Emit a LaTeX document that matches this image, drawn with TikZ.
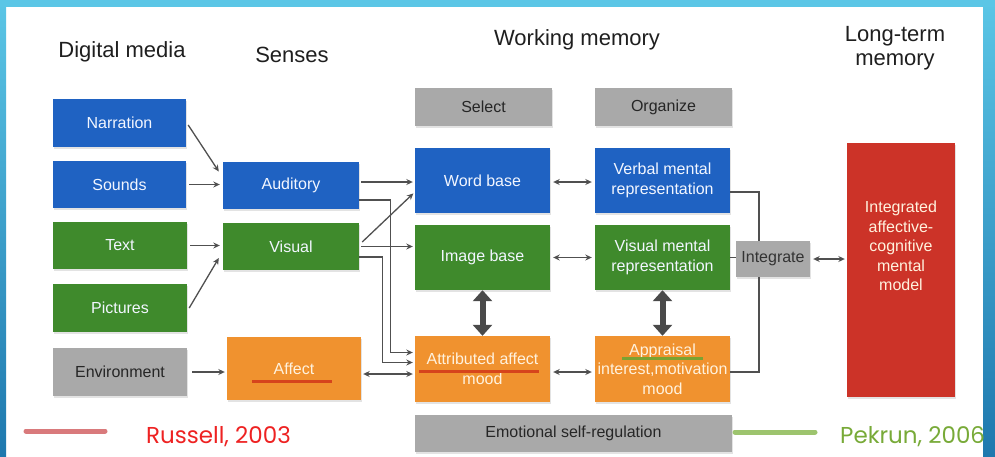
\documentclass[tikz,border=0pt]{standalone}
\usepackage{fontspec}
\setmainfont{Liberation Sans}
\newfontfamily\legfont{Poppins}
\usetikzlibrary{arrows.meta,calc,shadows}
\definecolor{cblue}{HTML}{1F62C2}
\definecolor{cgreen}{HTML}{3F8A2C}
\definecolor{corange}{HTML}{F0922F}
\definecolor{cgray}{HTML}{A9A9A9}
\definecolor{cred}{HTML}{CC3328}
\definecolor{cline}{HTML}{505050}
\definecolor{cthick}{HTML}{4A4A4A}
\definecolor{frameA}{HTML}{5BC6E6}
\definecolor{frameB}{HTML}{1E78AE}
\definecolor{ulred}{HTML}{D6441C}
\definecolor{ulgreen}{HTML}{7BA232}
\definecolor{legred}{HTML}{D97A7C}
\definecolor{leggreen}{HTML}{9DC46E}
\definecolor{txtred}{HTML}{EE2222}
\definecolor{txtgreen}{HTML}{78AA38}
\definecolor{lighttxt}{HTML}{F2F6FF}
\definecolor{orangetxt}{HTML}{FFF2DE}
\begin{document}
\begin{tikzpicture}[x=1pt,y=-1pt,
  box/.style={rectangle, inner sep=0pt, align=center,
    font=\fontsize{16}{19.5}\selectfont,
    drop shadow={shadow xshift=1pt,shadow yshift=-1.5pt,opacity=0.22}},
  bluebox/.style={box, fill=cblue, text=lighttxt},
  greenbox/.style={box, fill=cgreen, text=lighttxt},
  orangebox/.style={box, fill=corange, text=orangetxt},
  graybox/.style={box, fill=cgray, text=black!85},
  head/.style={font=\fontsize{22}{22}\selectfont, text=black!88, align=center, inner sep=0pt},
  arr/.style={draw=cline, line width=1.3pt, -{Stealth[length=6.5pt,width=6pt]}},
  darr/.style={draw=cline, line width=1.3pt, {Stealth[length=6.5pt,width=6pt]}-{Stealth[length=6.5pt,width=6pt]}},
  plain/.style={draw=cline, line width=1.3pt},
  fat/.style={draw=cthick, line width=6pt, {Triangle[length=11pt,width=19pt]}-{Triangle[length=11pt,width=19pt]}},
  ul/.style={line width=3pt},
  legline/.style={line width=5pt, line cap=round},
  legtext/.style={font=\legfont\fontsize{23}{23}\selectfont, inner sep=0pt, anchor=base west}
]
\useasboundingbox (0,0) rectangle (995,456);
\fill[white] (0,0) rectangle (995,456);
% frame
\shade[top color=frameA, bottom color=frameB] (0,0) rectangle (6,456);
\shade[top color=frameA, bottom color=frameB] (983,0) rectangle (995,456);
\fill[frameA] (0,0) rectangle (995,7);

% headers
\node[head, anchor=base] (hdm) at (122,57) {Digital media};
\node[head, anchor=base] (hsen) at (292,62) {Senses};
\node[head, anchor=base] (hwm) at (577,45) {Working memory};
\node[head] (hltm) at (895,48) {Long-term\\[2pt]memory};

% digital media
\node[bluebox, minimum width=133pt, minimum height=48pt] (narr) at (119.5,123) {Narration};
\node[bluebox, minimum width=133pt, minimum height=47pt] (sounds) at (119.5,184.5) {Sounds};
\node[greenbox, minimum width=134pt, minimum height=47pt] (text) at (120,245.5) {Text};
\node[greenbox, minimum width=134pt, minimum height=48pt] (pics) at (120,308) {Pictures};
\node[graybox, minimum width=134pt, minimum height=48pt] (env) at (120,372) {Environment};

% senses
\node[bluebox, minimum width=136pt, minimum height=47pt] (aud) at (291,185.5) {Auditory};
\node[greenbox, minimum width=136pt, minimum height=47pt] (vis) at (291,246.5) {Visual};
\node[orangebox, minimum width=134pt, minimum height=63pt] (affect) at (294,368.5) {Affect};

% working memory
\node[graybox, minimum width=137pt, minimum height=38pt] (select) at (483.5,107) {Select};
\node[graybox, minimum width=137pt, minimum height=38pt] (organize) at (663.5,107) {Organize};
\node[bluebox, minimum width=135pt, minimum height=65pt] (word) at (482.5,180.5) {Word base};
\node[bluebox, minimum width=135pt, minimum height=65pt] (verbal) at (662.5,180.5) {Verbal mental\\representation};
\node[greenbox, minimum width=135pt, minimum height=65pt] (image) at (482.5,257.5) {Image base};
\node[greenbox, minimum width=135pt, minimum height=65pt] (vismen) at (662.5,257.5) {Visual mental\\representation};
\node[orangebox, minimum width=135pt, minimum height=66pt] (attr) at (482.5,369) {Attributed affect\\mood};
\node[orangebox, minimum width=135pt, minimum height=66pt] (appr) at (662.5,369) {Appraisal\\interest,motivation\\mood};
\node[graybox, minimum width=317pt, minimum height=37pt] (emo) at (573.5,433.5) {Emotional self-regulation};
\node[graybox, minimum width=74pt, minimum height=36pt, text=black!80] (integ) at (773,259) {Integrate};

% long-term memory
\node[box, fill=cred, text=orangetxt, minimum width=108pt, minimum height=254pt] (ltm) at (901,270)
  {\raisebox{18pt}[0pt][0pt]{\begin{tabular}{@{}c@{}}Integrated\\affective-\\cognitive\\mental\\model\end{tabular}}};

% connectors: media -> senses
\draw[arr] ([xshift=2pt,yshift=-2pt]narr.east) -- ([xshift=-4pt,yshift=14pt]aud.west);
\draw[arr, shorten <=3pt, shorten >=3pt] (sounds.east) -- (sounds.east -| aud.west);
\draw[arr, shorten <=3pt, shorten >=3pt] (text.east) -- (text.east -| vis.west);
\draw[arr] ([xshift=2pt]pics.east) -- ([xshift=-4pt,yshift=-11.5pt]vis.west);
\draw[arr, shorten <=5pt, shorten >=2pt] (env.east) -- (env.east -| affect.west);
\draw[darr, shorten <=2pt, shorten >=2pt] ([yshift=-5.5pt]affect.east) -- ([yshift=-5.5pt]affect.east -| attr.west);

% senses -> working memory
\draw[arr, shorten <=2pt, shorten >=2pt] ([yshift=3.5pt]aud.east) -- ([yshift=3.5pt]aud.east -| word.west);
\draw[arr, shorten >=2pt] ([yshift=-14.5pt]aud.east) -- ++(31,0) |- ([yshift=16.5pt]attr.west);
\draw[arr, shorten >=2pt] ([xshift=3pt,yshift=4.5pt]vis.east) -- ([yshift=-11.5pt]word.west);
\draw[arr, shorten <=2pt, shorten >=2pt] (vis.east) -- (vis.east -| image.west);
\draw[arr, shorten >=2pt] ([yshift=-10.5pt]vis.east) -- ++(23,0) |- ([yshift=6.5pt]attr.west);

% within working memory
\draw[darr, shorten <=3pt, shorten >=3pt] ([yshift=-1.5pt]word.east) -- ([yshift=-1.5pt]word.east -| verbal.west);
\draw[darr, shorten <=3pt, shorten >=3pt] (image.east) -- (image.east -| vismen.west);
\draw[darr, shorten <=3pt, shorten >=3pt] ([yshift=-3pt]attr.east) -- ([yshift=-3pt]attr.east -| appr.west);
\draw[fat] (image.south) -- (attr.north);
\draw[fat] (vismen.south) -- (appr.north);

% integrate
\draw[plain] ([yshift=-11.5pt]verbal.east) -| ([xshift=-14pt]integ.north);
\draw[plain] (vismen.east) -- (vismen.east -| integ.west);
\draw[plain] ([yshift=-3pt]appr.east) -| ([xshift=-14pt]integ.south);
\draw[darr, shorten <=3pt, shorten >=2pt] (integ.east) -- (integ.east -| ltm.west);

% underlines
\draw[ulred, ul] ($(affect.center)+(-42,12.5)$) -- ++(80,0);
\draw[ulred, ul] ($(attr.center)+(-63.5,2)$) -- ++(120,0);
\draw[ulgreen, ul] ($(appr.center)+(-40.5,-11)$) -- ++(81,0);

% legend
\draw[legred, legline] (26,431) -- (105,431);
\node[legtext, text=txtred] (russell) at (146,443) {Russell, 2003};
\draw[leggreen, legline] (735,432) -- (815,432);
\node[legtext, text=txtgreen] (pekrun) at (840,443) {Pekrun, 2006};
\end{tikzpicture}
\end{document}
